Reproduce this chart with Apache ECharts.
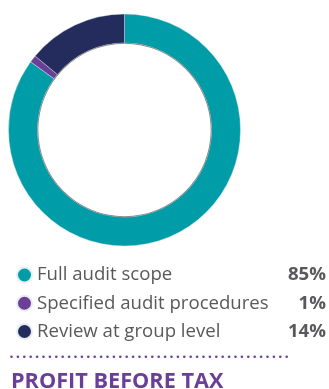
<!DOCTYPE html>
<html>
<head>
<meta charset="utf-8">
<script src="https://cdn.jsdelivr.net/npm/echarts@6/dist/echarts.min.js"></script>
<style>
  html, body { margin: 0; padding: 0; background: #ffffff; }
  #chart { width: 329px; height: 389px; }
</style>
</head>
<body>
<div id="chart"></div>
<script>
// Audit coverage split, share of profit before tax
const categories = ['Full audit scope', 'Specified audit procedures', 'Review at group level'];
const shares = [85, 1, 14];
const colors = ['#009ca8', '#6b3f98', '#232c5c'];
const heading = 'PROFIT BEFORE TAX';

const FONT = '"Open Sans", sans-serif';
const TEXT_GREY = '#59595b';
const PURPLE = '#6b3f98';

const pieData = categories.map((name, i) => ({
  name: name,
  value: shares[i],
  itemStyle: { color: colors[i] }
}));
const shareByName = {};
categories.forEach((c, i) => { shareByName[c] = shares[i]; });

const chart = echarts.init(document.getElementById('chart'), null, { renderer: 'canvas' });
chart.setOption({
  animation: false,
  backgroundColor: '#ffffff',
  legend: {
    orient: 'vertical',
    left: 11,
    top: 256.5,
    itemWidth: 15,
    itemHeight: 15,
    itemGap: 1.25,
    icon: 'circle',
    selectedMode: false,
    data: categories,
    formatter: name => '{n|' + name + '}{p|' + shareByName[name] + '%}',
    textStyle: {
      fontFamily: FONT,
      fontSize: 18.6,
      lineHeight: 27,
      rich: {
        n: { width: 244, fontSize: 18.6, color: TEXT_GREY, fontFamily: FONT, lineHeight: 27 },
        p: { width: 45, align: 'right', fontSize: 18.6, fontWeight: 'bold', color: TEXT_GREY, fontFamily: FONT, lineHeight: 27 }
      }
    }
  },
  series: [
    {
      type: 'pie',
      center: [124.5, 130],
      radius: [87, 116],
      startAngle: 90,
      clockwise: true,
      silent: true,
      label: { show: false },
      labelLine: { show: false },
      itemStyle: { borderColor: '#e6eef0', borderWidth: 0.4 },
      data: pieData
    },
    {
      // thin grey rim along the inner edge of the ring
      type: 'pie',
      center: [124.5, 130],
      radius: [86.2, 87.2],
      silent: true,
      label: { show: false },
      labelLine: { show: false },
      itemStyle: { color: '#8a8a8a' },
      data: [{ value: 1, name: 'rim' }]
    }
  ],
  graphic: [
    {
      type: 'line',
      shape: { x1: 11.5, y1: 356.8, x2: 291, y2: 356.8 },
      style: { stroke: PURPLE, lineWidth: 2.6, lineCap: 'round', lineDash: [0, 6.4] },
      silent: true
    },
    {
      type: 'text',
      left: 11,
      top: 371,
      style: {
        text: heading,
        fontFamily: FONT,
        fontSize: 21.7,
        fontWeight: 'bold',
        fill: PURPLE
      },
      silent: true
    }
  ]
});
</script>
</body>
</html>
